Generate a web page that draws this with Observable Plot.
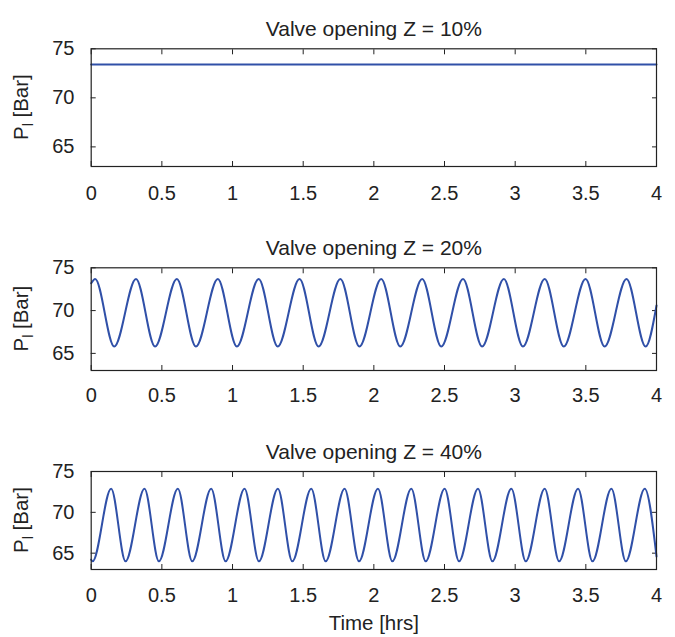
<!DOCTYPE html>
<html>
<head>
<meta charset="utf-8">
<script src="https://cdn.jsdelivr.net/npm/d3@7"></script>
<script src="https://cdn.jsdelivr.net/npm/@observablehq/plot@0.6"></script>
<style>
  html, body { margin: 0; padding: 0; background: #fff; }
  #chart svg { display: block; }
</style>
</head>
<body>
<div id="chart"></div>
<script>
// ---- data ----
const xTicks = [0, 0.5, 1, 1.5, 2, 2.5, 3, 3.5, 4];
const yTicks = [65, 70, 75];
const titles = ["Valve opening Z = 10%", "Valve opening Z = 20%", "Valve opening Z = 40%"];
const yLabelMain = "P";
const yLabelSub = "l";
const yLabelUnit = " [Bar]";
const xLabel = "Time [hrs]";

// Z = 10% : constant pressure
const t10 = [0, 4];
const p10 = [73.4, 73.4];

// Z = 20% : start, then alternating peaks / troughs, end
const t20 = [0, 0.028, 0.163, 0.317, 0.452, 0.606, 0.741, 0.896, 1.031, 1.185, 1.320,
  1.474, 1.609, 1.763, 1.898, 2.052, 2.187, 2.342, 2.477, 2.631, 2.766, 2.920, 3.055,
  3.209, 3.344, 3.498, 3.633, 3.788, 3.923, 4];
const p20 = [73.2, 73.7, 65.8, 73.7, 65.8, 73.7, 65.8, 73.7, 65.8, 73.7, 65.8,
  73.7, 65.8, 73.7, 65.8, 73.7, 65.8, 73.7, 65.8, 73.7, 65.8, 73.7, 65.8,
  73.7, 65.8, 73.7, 65.8, 73.7, 65.8, 70.6];

// Z = 40% : start, then alternating troughs / peaks, end
const t40 = [0, 0.010, 0.141, 0.243, 0.377, 0.479, 0.613, 0.715, 0.849, 0.951, 1.085,
  1.187, 1.321, 1.423, 1.557, 1.659, 1.793, 1.895, 2.029, 2.131, 2.265, 2.367, 2.501,
  2.603, 2.737, 2.839, 2.973, 3.075, 3.209, 3.311, 3.445, 3.547, 3.681, 3.783, 3.917, 4];
const p40 = [64.2, 64.0, 72.9, 64.0, 72.9, 64.0, 72.9, 64.0, 72.9, 64.0, 72.9,
  64.0, 72.9, 64.0, 72.9, 64.0, 72.9, 64.0, 72.9, 64.0, 72.9, 64.0, 72.9,
  64.0, 72.9, 64.0, 72.9, 64.0, 72.9, 64.0, 72.9, 64.0, 72.9, 64.0, 72.9, 64.6];

// ---- drawing ----
const FONT = "'Liberation Sans', Arial, Helvetica, sans-serif";
const INK = "#222";
const LINE = "#3050a8";

function panel({title, t, p, height, marginTop, marginBottom, xTextGap, withXLabel}) {
  const data = t.map((d, i) => ({t: d, p: p[i]}));
  const marks = [
    Plot.axisX({anchor: "bottom", ticks: xTicks, tickSize: -5, tickPadding: xTextGap + 5,
      tickFormat: d => String(d), label: null, fontSize: 20}),
    Plot.axisX({anchor: "top", ticks: xTicks, tickSize: -5, tickFormat: () => "", label: null}),
    Plot.axisY({anchor: "left", ticks: yTicks, tickSize: -5, tickPadding: 21.7,
      tickFormat: d => String(d), label: null, fontSize: 20}),
    Plot.axisY({anchor: "right", ticks: yTicks, tickSize: -5, tickFormat: () => "", label: null}),
    Plot.line(data, {x: "t", y: "p", stroke: LINE, strokeWidth: 2, curve: "monotone-x"}),
    Plot.frame({stroke: INK, strokeWidth: 1.2}),
    Plot.text([title], {text: d => d, frameAnchor: "top", dy: -27.8, fontSize: 21, fill: INK})
  ];
  if (withXLabel) {
    marks.push(Plot.text([xLabel], {text: d => d, frameAnchor: "bottom", dy: 60.5, fontSize: 20.5, fill: INK}));
  }
  const svg = Plot.plot({
    width: 675, height,
    marginLeft: 90.7, marginRight: 19, marginTop, marginBottom,
    style: {fontFamily: FONT, fontSize: "20px", color: INK, background: "#fff", overflow: "visible"},
    x: {domain: [0, 4]},
    y: {domain: [63, 75]},
    marks
  });
  const cy = marginTop + (height - marginTop - marginBottom) / 2;
  const lab = d3.select(svg).append("text")
    .attr("transform", `translate(28,${cy}) rotate(-90)`)
    .attr("text-anchor", "middle")
    .attr("font-size", 20.5)
    .attr("font-family", FONT)
    .attr("fill", INK);
  lab.append("tspan").text(yLabelMain);
  lab.append("tspan").attr("font-size", 14).attr("dy", 5).text(yLabelSub);
  lab.append("tspan").attr("dy", -5).text(yLabelUnit);
  return svg;
}

const root = document.getElementById("chart");
root.appendChild(panel({title: titles[0], t: t10, p: p10, height: 212, marginTop: 48.3, marginBottom: 46, xTextGap: 19}));
root.appendChild(panel({title: titles[1], t: t20, p: p20, height: 206, marginTop: 55.3, marginBottom: 48, xTextGap: 17}));
root.appendChild(panel({title: titles[2], t: t40, p: p40, height: 219, marginTop: 53, marginBottom: 68, xTextGap: 18, withXLabel: true}));
</script>
</body>
</html>
